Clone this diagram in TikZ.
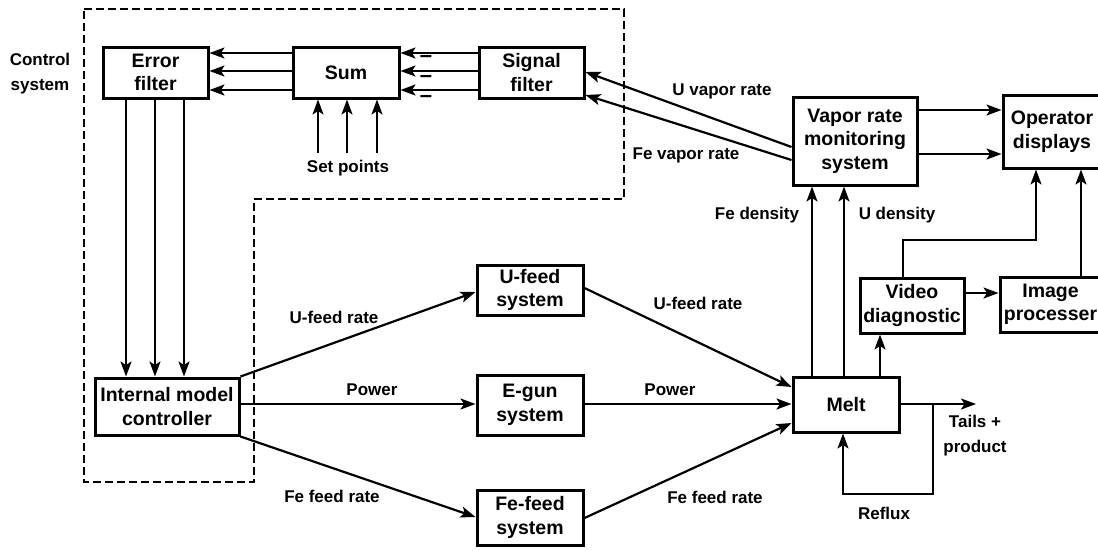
\documentclass[tikz,border=0pt]{standalone}
\usepackage{fontspec}
\setmainfont{Liberation Sans}
\usetikzlibrary{arrows.meta,calc}
\newcommand\boxfont{\bfseries\fontsize{19.5}{23.5}\selectfont}
\newcommand\lblfont{\bfseries\fontsize{17}{25}\selectfont}
\begin{document}
\begin{tikzpicture}[x=1pt,y=-1pt,
  box/.style={draw, line width=3pt, inner sep=0pt, align=center, font=\boxfont},
  lbl/.style={font=\lblfont, inner sep=1pt, align=center},
  conn/.style={line width=2.2pt, -{Stealth[length=15pt,width=11pt,inset=3.5pt]}},
  ctl/.style={line width=2.8pt, dash pattern=on 8pt off 4pt}]
\useasboundingbox (0,0) rectangle (1098,550);
\clip (0,0) rectangle (1098,550);

% control system region
\draw[ctl] (84,9) -- (624,9) -- (624,199) -- (254,199) -- (254,482) -- (84,482) -- cycle;
\node[lbl] (ctltxt) at (40,74) {Control\\system};

% boxes
\node[box, minimum width=105pt, minimum height=51pt] (ef) at (155.5,72.5) {Error\\filter};
\node[box, minimum width=106pt, minimum height=51pt] (sum) at (346,72.5) {Sum};
\node[box, minimum width=105pt, minimum height=51pt] (sf) at (531.5,72.5) {Signal\\filter};
\node[box, minimum width=124pt, minimum height=88pt] (vap) at (855,141) {Vapor rate\\monitoring\\system};
\node[box, minimum width=98pt, minimum height=73pt] (op) at (1052,131.5) {Operator\\displays};
\node[box, minimum width=104pt, minimum height=55pt] (vid) at (912,305.5) {Video\\diagnostic};
\node[box, minimum width=101pt, minimum height=55pt] (img) at (1050.5,304.5) {Image\\processer};
\node[box, minimum width=144pt, minimum height=57pt] (imc) at (167,406.5) {Internal model\\controller};
\node[box, minimum width=106pt, minimum height=50pt] (uf) at (530,290) {U-feed\\system};
\node[box, minimum width=106pt, minimum height=60pt] (eg) at (530,405) {E-gun\\system};
\node[box, minimum width=106pt, minimum height=55pt] (ff) at (530,517.5) {Fe-feed\\system};
\node[box, minimum width=106pt, minimum height=55pt] (melt) at (846,404.5) {Melt};

% sum -> error filter, signal filter -> sum
\foreach \yy in {53,71,90} {
  \draw[conn] (sum.west |- 0,\yy) -- (ef.east |- 0,\yy);
  \draw[conn] (sf.west |- 0,\yy) -- (sum.east |- 0,\yy);
}
\node[lbl, inner sep=0pt, font=\bfseries\fontsize{22}{22}\selectfont] (m1) at (426,59) {–};
\node[lbl, inner sep=0pt, font=\bfseries\fontsize{22}{22}\selectfont] (m2) at (426,79) {–};
\node[lbl, inner sep=0pt, font=\bfseries\fontsize{22}{22}\selectfont] (m3) at (426,99) {–};

% set points
\coordinate (sp1) at (318,153);
\coordinate (sp2) at (347,153);
\coordinate (sp3) at (377,153);
\foreach \c in {sp1,sp2,sp3} \draw[conn] (\c) -- (\c |- sum.south);
\node[lbl] (spt) at (348,168) {Set points};

% error filter -> internal model controller
\foreach \xx in {126,155,184} \draw[conn] (ef.south -| \xx,0) -- (imc.north -| \xx,0);

% vapor rate -> signal filter
\draw[conn] (vap.west |- 0,147) -- (sf.east |- 0,72);
\draw[conn] (vap.west |- 0,160) -- (sf.east |- 0,95);
\node[lbl] (uvr) at (722,91) {U vapor rate};
\node[lbl] (fvr) at (686,155) {Fe vapor rate};

% vapor -> operator
\draw[conn] (vap.east |- 0,110) -- (op.west |- 0,110);
\draw[conn] (vap.east |- 0,154) -- (op.west |- 0,154);

% melt -> vapor, melt -> video
\draw[conn] (melt.north -| 812,0) -- (vap.south -| 812,0);
\draw[conn] (melt.north -| 844,0) -- (vap.south -| 844,0);
\draw[conn] (melt.north -| 880,0) -- (vid.south -| 880,0);
\node[lbl] (fed) at (757,215) {Fe density};
\node[lbl] (ud) at (897,215) {U density};

% video -> operator, image -> operator, video -> image
\coordinate (b1) at (903,240);
\coordinate (b2) at (1036,240);
\draw[conn] (vid.north -| b1) -- (b1) -- (b2) -- (op.south -| b2);
\draw[conn] (img.north -| 1081,0) -- (op.south -| 1081,0);
\draw[conn] (vid.east |- 0,293) -- (img.west |- 0,293);

% controller -> feeds
\draw[conn] (imc.north east) -- (uf.west |- 0,292);
\draw[conn] (imc.east |- 0,404) -- (eg.west |- 0,404);
\draw[conn] (imc.south east) -- (ff.west |- 0,517);
\node[lbl] (ufr1) at (334,317) {U-feed rate};
\node[lbl] (pw1) at (372,390) {Power};
\node[lbl] (ffr1) at (332,496) {Fe feed rate};

% feeds -> melt
\draw[conn] (uf.east |- 0,288) -- (melt.west |- 0,387);
\draw[conn] (eg.east |- 0,404) -- (melt.west |- 0,404);
\draw[conn] (ff.east |- 0,518) -- (melt.west |- 0,423);
\node[lbl] (ufr2) at (698,303) {U-feed rate};
\node[lbl] (pw2) at (670,390) {Power};
\node[lbl] (ffr2) at (715,497) {Fe feed rate};

% output and reflux
\coordinate (out) at (976,404);
\coordinate (rf0) at (933,404);
\coordinate (rf1) at (933,494);
\coordinate (rf2) at (843,494);
\draw[conn] (melt.east |- out) -- (out);
\draw[conn] (rf0) -- (rf1) -- (rf2) -- (melt.south -| rf2);
\node[lbl] (tp) at (975,436) {Tails +\\product};
\node[lbl] (rfl) at (884,513) {Reflux};
\end{tikzpicture}
\end{document}
